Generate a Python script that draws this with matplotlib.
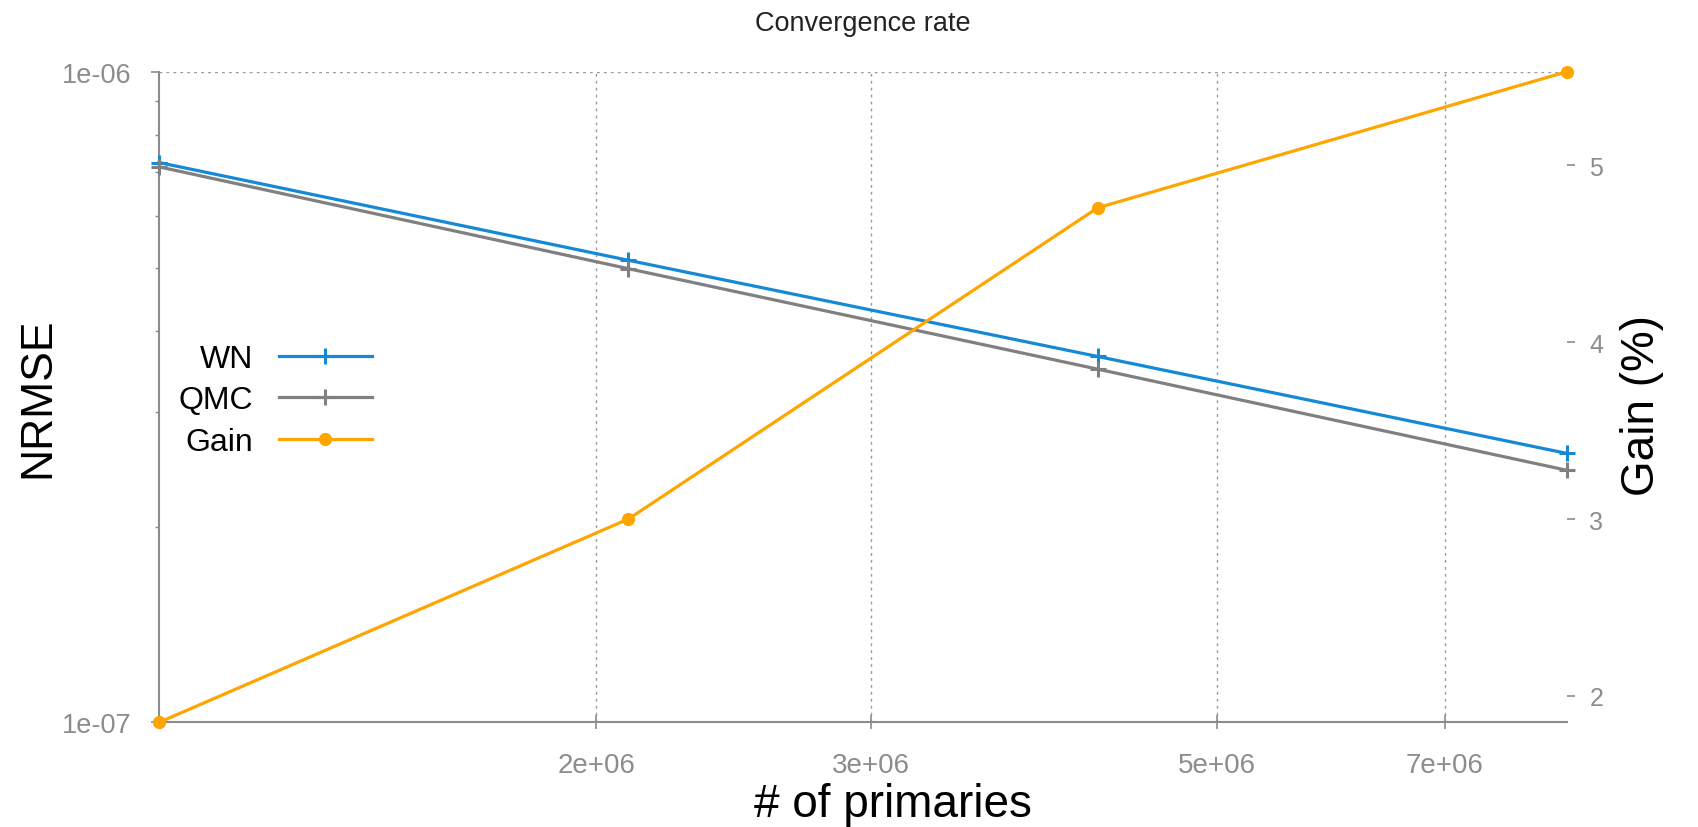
import numpy as np
import matplotlib.pyplot as plt
import matplotlib as mpl

plt.rcParams['font.family'] = ['Liberation Sans', 'DejaVu Sans']
plt.rcParams['axes.linewidth'] = 1.5

# data
primaries = [1048576, 2097152, 4194304, 8388608]
nrmse_wn = [7.25e-7, 5.13e-7, 3.65e-7, 2.59e-7]
nrmse_qmc = [7.14e-7, 4.98e-7, 3.49e-7, 2.44e-7]
gain = [1.85, 3.00, 4.76, 5.53]

xticks = [2e6, 3e6, 5e6, 7e6]
xticklabels = ['2e+06', '3e+06', '5e+06', '7e+06']
gain_ticks = [2, 3, 4, 5]

c_wn = '#1589d6'
c_qmc = '#808080'
c_gain = '#ffa500'
grey = '#8c8c8c'

fig = plt.figure(figsize=(16.98, 8.28), dpi=100)
ax = fig.add_axes([0.0936, 0.1263, 0.8293, 0.786])
ax2 = ax.twinx()

l1, = ax.plot(primaries, nrmse_wn, color=c_wn, lw=2.3, marker='+', ms=11, mew=2.2,
              clip_on=False, zorder=3, label='WN')
l2, = ax.plot(primaries, nrmse_qmc, color=c_qmc, lw=2.3, marker='+', ms=11, mew=2.2,
              clip_on=False, zorder=3, label='QMC')
l3, = ax2.plot(primaries, gain, color=c_gain, lw=2.3, marker='o', ms=8.5,
               clip_on=False, zorder=3, label='Gain')

ax.set_xscale('log')
ax.set_yscale('log')
ax.set_xlim(primaries[0], primaries[-1])
ax.set_ylim(1e-7, 1e-6)
ax2.set_ylim(min(gain), max(gain))

ax.set_xticks(xticks)
ax.set_xticklabels(xticklabels, fontsize=20, color=grey)
ax.xaxis.set_minor_locator(mpl.ticker.NullLocator())
ax.tick_params(axis='x', direction='inout', length=10, width=1.2, color=grey, pad=16)

ax.set_yticks([1e-7, 1e-6])
ax.set_yticklabels(['1e-07', '1e-06'], fontsize=19.5, color=grey)
ax.yaxis.set_minor_locator(mpl.ticker.LogLocator(subs=np.arange(2, 10)))
ax.yaxis.set_minor_formatter(mpl.ticker.NullFormatter())
ax.tick_params(axis='y', which='major', direction='out', length=6, width=1.2, color=grey, pad=14)
ax.tick_params(axis='y', which='minor', direction='out', length=3, width=1.0, color=grey)

ax2.set_yticks(gain_ticks)
ax2.set_yticklabels([str(t) for t in gain_ticks], fontsize=18, color=grey)
ax2.tick_params(axis='y', direction='out', length=6, width=1.2, color=grey, pad=10)

for s in ['top', 'right']:
    ax.spines[s].set_visible(False)
for s in ['top', 'right', 'left', 'bottom']:
    ax2.spines[s].set_visible(False)
ax.spines['left'].set_color(grey)
ax.spines['bottom'].set_color(grey)

ax.grid(True, which='major', axis='both', color='#999999', linestyle=(0, (2, 3)), lw=1.0)

ax.set_title('Convergence rate', fontsize=19.5, color='#222222', pad=30)
ax.set_xlabel('# of primaries', fontsize=33, labelpad=3)
ax.xaxis.label.set_x(0.521)
ax.set_ylabel('NRMSE', fontsize=32, labelpad=2)
ax2.set_ylabel('Gain (%)', fontsize=33, labelpad=12)
ax2.yaxis.label.set_y(0.488)

leg = ax.legend(handles=[l1, l2, l3], loc='center left', bbox_to_anchor=(0.005, 0.495),
                frameon=False, markerfirst=False, fontsize=23, handlelength=2.9,
                labelspacing=0.36, handletextpad=0.8, borderaxespad=0.0)

fig.savefig('out.png', dpi=100, facecolor='white')
